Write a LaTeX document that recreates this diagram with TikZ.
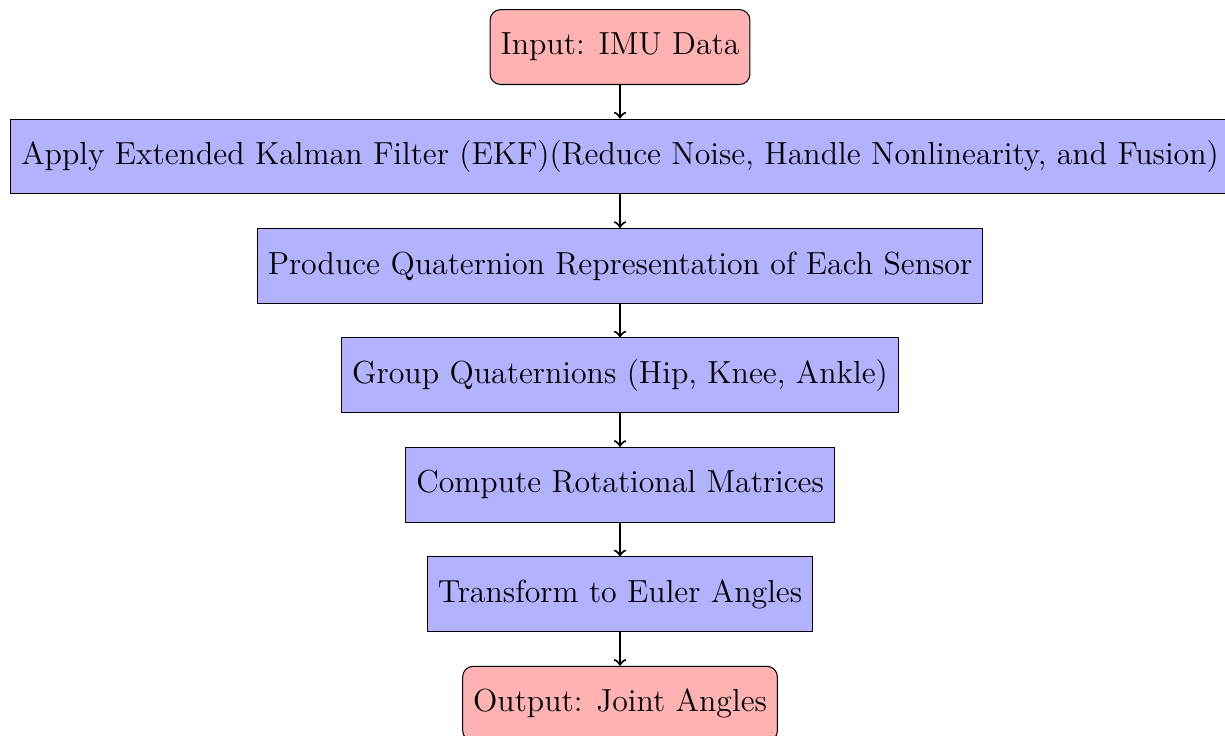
\documentclass[tikz,border=0pt]{standalone}
\usetikzlibrary{positioning}
\begin{document}
\begin{tikzpicture}[
  node distance=12.9pt,
  boxfont/.style={font=\fontsize{12.27pt}{14.5pt}\selectfont},
  term/.style={draw=black, fill=red!30, rounded corners=4pt, minimum height=28.8pt, boxfont, inner sep=4pt},
  proc/.style={draw=black, fill=blue!30, minimum height=28.8pt, boxfont, inner sep=4pt},
  flow/.style={->, thick}
]
\useasboundingbox (-238.5pt,18.1pt) rectangle (232.7pt,-265pt);
\node[term] (in) at (0,0) {Input: IMU Data};
\node[proc, below=of in] (ekf) {Apply Extended Kalman Filter (EKF)(Reduce Noise, Handle Nonlinearity, and Fusion)};
\node[proc, below=of ekf] (quat) {Produce Quaternion Representation of Each Sensor};
\node[proc, below=of quat] (group) {Group Quaternions (Hip, Knee, Ankle)};
\node[proc, below=of group] (rot) {Compute Rotational Matrices};
\node[proc, below=of rot] (euler) {Transform to Euler Angles};
\node[term, below=of euler] (out) {Output: Joint Angles};
\draw[flow] (in) -- (ekf);
\draw[flow] (ekf) -- (quat);
\draw[flow] (quat) -- (group);
\draw[flow] (group) -- (rot);
\draw[flow] (rot) -- (euler);
\draw[flow] (euler) -- (out);
\end{tikzpicture}
\end{document}
